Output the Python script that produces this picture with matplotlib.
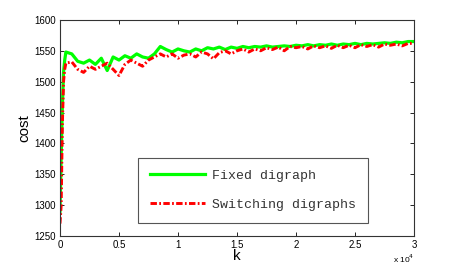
#!/usr/bin/env python3
import numpy as np
import matplotlib
matplotlib.use('Agg')
import matplotlib.pyplot as plt
from matplotlib.ticker import FuncFormatter

# iterations k
k_fixed = [0, 100, 200, 300, 400, 500] + list(range(1000, 30001, 500))
cost_fixed = [1290, 1380, 1460, 1515, 1535, 1548,
              1545, 1533, 1530, 1535, 1528, 1538, 1518, 1540, 1535,
              1542, 1538, 1545, 1540, 1538, 1545, 1557, 1552, 1548, 1553,
              1550, 1548, 1553, 1550, 1555, 1553, 1556, 1552, 1556, 1554,
              1557, 1555, 1557, 1556, 1558, 1556, 1557, 1558, 1557, 1559,
              1558, 1560, 1558, 1560, 1559, 1561, 1559, 1561, 1560, 1562,
              1560, 1562, 1561, 1562, 1563, 1562, 1564, 1563, 1565, 1565]

k_switch = [0, 100, 200, 300, 400, 500] + list(range(1000, 30001, 500))
cost_switch = [1270, 1300, 1430, 1500, 1520, 1530,
               1532, 1520, 1515, 1525, 1520, 1525, 1530, 1520, 1510,
               1528, 1535, 1530, 1525, 1535, 1540, 1545, 1540, 1545, 1538,
               1543, 1545, 1540, 1548, 1545, 1537, 1547, 1550, 1545, 1550,
               1553, 1548, 1553, 1550, 1555, 1552, 1556, 1550, 1557, 1555,
               1557, 1553, 1558, 1555, 1558, 1554, 1559, 1555, 1559, 1555,
               1560, 1557, 1560, 1556, 1561, 1559, 1561, 1558, 1562, 1562]

xticks = [0, 5000, 10000, 15000, 20000, 25000, 30000]
yticks = [1250, 1300, 1350, 1400, 1450, 1500, 1550, 1600]


def main():
    plt.rcParams['font.family'] = ['Liberation Sans', 'DejaVu Sans']
    fig = plt.figure(figsize=(4.58, 2.66), dpi=100)
    ax = fig.add_axes([0.131, 0.113, 0.773, 0.812])

    ax.plot(k_fixed, cost_fixed, color='#00ff00', lw=2.3, label='Fixed digraph')
    ax.plot(k_switch, cost_switch, color='#ff0000', lw=2.1,
            dashes=(2.2, 0.8, 0.6, 0.8), label='Switching digraphs')

    ax.set_xlim(0, 30000)
    ax.set_ylim(1250, 1600)
    ax.set_xticks(xticks)
    ax.set_yticks(yticks)
    ax.xaxis.set_major_formatter(FuncFormatter(lambda v, p: '{:g}'.format(v / 1e4)))
    ax.tick_params(direction='in', top=True, right=True, labelsize=7,
                   length=3, width=0.6, pad=3)
    for s in ax.spines.values():
        s.set_linewidth(0.8)
        s.set_color('#333333')

    ax.set_xlabel('k', fontsize=11, labelpad=-1)
    ax.set_ylabel('cost', fontsize=11, labelpad=2)
    ax.text(1.0, -0.075, r'x 10$^4$', transform=ax.transAxes, fontsize=6,
            ha='right', va='top')

    leg = ax.legend(loc='lower left', bbox_to_anchor=(0.22, 0.06),
                    prop={'family': 'Liberation Mono', 'size': 9.5},
                    handlelength=4.2, handletextpad=0.5, labelspacing=1.3,
                    borderpad=0.9, borderaxespad=0, fancybox=False,
                    framealpha=1)
    leg.get_frame().set_edgecolor('#555555')
    leg.get_frame().set_linewidth(0.8)
    for t in leg.get_texts():
        t.set_color('#333333')

    plt.savefig('out.png', dpi=100)


if __name__ == "__main__":
    main()
